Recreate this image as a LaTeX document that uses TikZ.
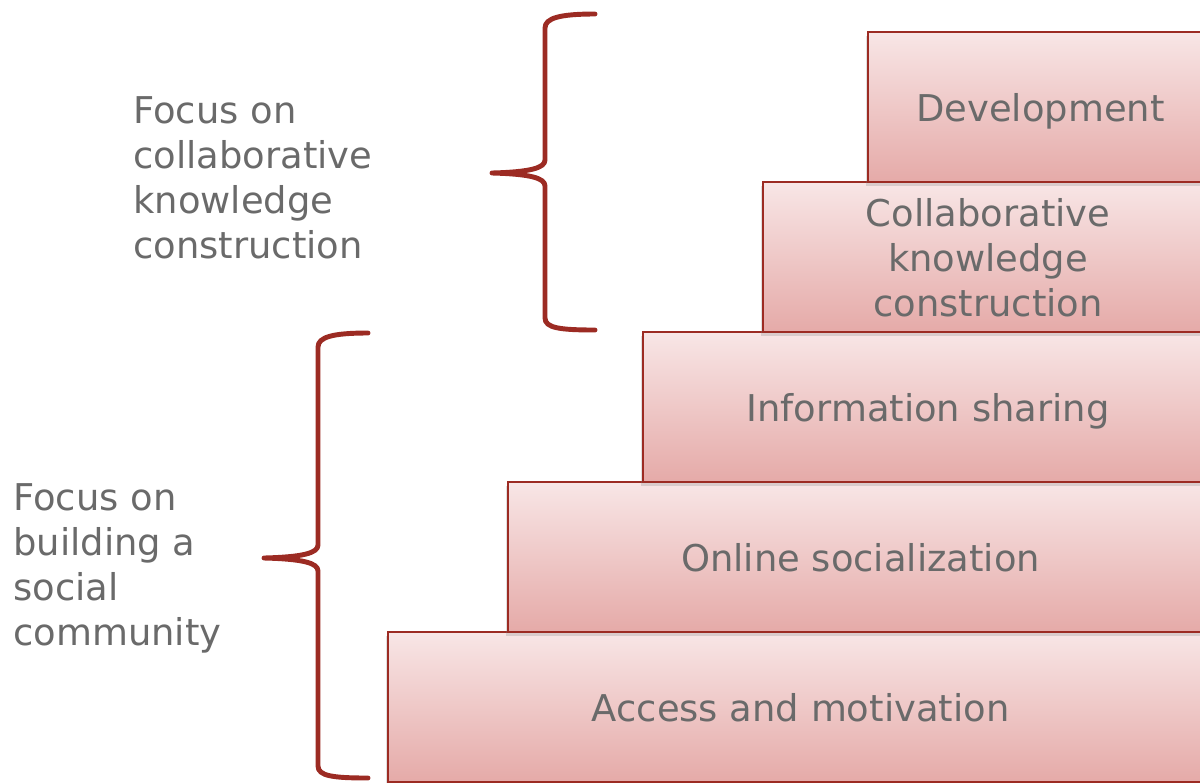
\documentclass[tikz,border=0pt]{standalone}
\usepackage{fontspec}
\setmainfont{DejaVu Sans}
\usepackage{xcolor}
\usepackage{tikz}
\usetikzlibrary{positioning, shadows}

\definecolor{stepred}{HTML}{9C2B23}
\definecolor{stepgray}{HTML}{6A6A6A}
\definecolor{steptop}{HTML}{F8E6E6}
\definecolor{stepbottom}{HTML}{E5AAA8}

\begin{document}
\begin{tikzpicture}[x=0.02cm, y=-0.02cm]
\tikzstyle{stepbox} = [rectangle, draw=stepred, line width=1.3pt, top color=steptop, bottom color=stepbottom, minimum height=3cm, outer sep=0pt, inner sep=0pt, text depth=0pt, text=stepgray, align=center, font=\fontsize{21}{25.6}\selectfont, drop shadow={shadow xshift=-1pt, shadow yshift=-2pt, opacity=0.25}]
\tikzstyle{focus} = [text=stepgray, align=left, anchor=west, inner sep=0pt, font=\fontsize{21}{25.6}\selectfont]
\tikzstyle{bracket} = [draw=stepred, line width=2.8pt, line cap=round, line join=round]

\useasboundingbox (0,0) rectangle (1200,782);
\clip (0,0) rectangle (1200,782);

% steps, from the bottom up
\node (access) [stepbox, minimum width=16.5cm, anchor=south east] at (1213,782) {Access and motivation};
\node (social) [stepbox, minimum width=14.1cm, above left=0cm and 0cm of access.north east] {Online socialization};
\node (sharing) [stepbox, minimum width=11.4cm, above left=0cm and 0cm of social.north east] {Information sharing};
\node (collab) [stepbox, minimum width=9cm, above left=0cm and 0cm of sharing.north east] {Collaborative\\knowledge\\construction};
\node (develop) [stepbox, minimum width=6.9cm, above left=0cm and 0cm of collab.north east] {Development};

% braces
\draw[bracket] (595,14) .. controls (560,14) and (545,18) .. (545,28) -- (545,160)
  .. controls (545,168) and (530,172) .. (492,173)
  .. controls (530,174) and (545,178) .. (545,186) -- (545,318)
  .. controls (545,328) and (560,330) .. (595,330);
\draw[bracket] (368,333) .. controls (333,333) and (318,337) .. (318,347) -- (318,545)
  .. controls (318,553) and (303,557) .. (264,558)
  .. controls (303,559) and (318,563) .. (318,571) -- (318,766)
  .. controls (318,776) and (333,778) .. (368,778);

\node (knowfocus) [focus] at (133,178) {Focus on\\collaborative\\knowledge\\construction};
\node (socialfocus) [focus] at (13,568) {Focus on\\building a\\social\\community};

\end{tikzpicture}
\end{document}
